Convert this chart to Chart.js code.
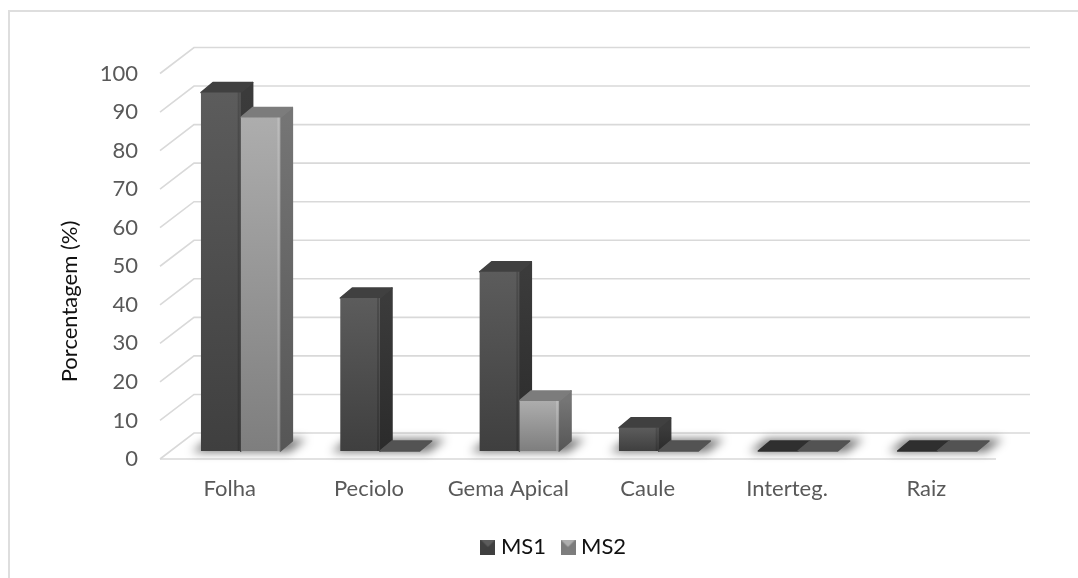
<!DOCTYPE html>
<html>
<head>
<meta charset="utf-8">
<script src="https://cdn.jsdelivr.net/npm/chart.js@4"></script>
<style>
  html, body { margin: 0; padding: 0; background: #fff; }
  canvas { display: block; }
</style>
</head>
<body>
<canvas id="graph" width="1078" height="578"></canvas>
<script>
const categories = ['Folha', 'Peciolo', 'Gema Apical', 'Caule', 'Interteg.', 'Raiz'];
const ms1 = [93, 39.7, 46.5, 6, 0, 0];
const ms2 = [86.5, 0, 13, 0, 0, 0];
const yTicks = [0, 10, 20, 30, 40, 50, 60, 70, 80, 90, 100];
const yTitle = 'Porcentagem (%)';

const FONT = 'Lato, Carlito, Calibri, sans-serif';

// 3d look: back wall is pushed by wall, bars stand a bit inside the floor
const wall = { x: 34, y: -26 };
const inset = { x: 11, y: -8 };
const depth = { x: 12, y: -10 };

const looks = [
  { top: '#5c5c5c', bottom: '#3f3f3f', side: '#3b3b3b', sideLow: '#2b2b2b', cap: '#404040', flat: '#2f2f2f', edge: 'rgba(0,0,0,0.16)' },
  { top: '#adadad', bottom: '#7e7e7e', side: '#757575', sideLow: '#565656', cap: '#7c7c7c', flat: '#535353', edge: 'rgba(255,255,255,0.18)' }
];

function faceColor(look) {
  return function(context) {
    const chart = context.chart;
    const scale = chart.scales.y;
    if (!scale || context.raw === undefined) return look.bottom;
    const y0 = scale.getPixelForValue(context.raw);
    const y1 = scale.getPixelForValue(0);
    if (!Number.isFinite(y0) || !Number.isFinite(y1)) return look.bottom;
    const g = chart.ctx.createLinearGradient(0, y0, 0, y1);
    g.addColorStop(0, look.top);
    g.addColorStop(1, look.bottom);
    return g;
  };
}

function poly(ctx, pts, fill) {
  ctx.beginPath();
  pts.forEach((p, i) => i ? ctx.lineTo(p[0], p[1]) : ctx.moveTo(p[0], p[1]));
  ctx.closePath();
  ctx.fillStyle = fill;
  ctx.strokeStyle = fill;
  ctx.lineWidth = 1.5;
  ctx.lineJoin = 'round';
  ctx.fill();
  ctx.stroke();
}

function drawSides(ctx, meta, look) {
  meta.data.forEach(bar => {
    const l = bar.x - bar.width / 2;
    const r = bar.x + bar.width / 2;
    const t = bar.y;
    const b = bar.base;
    if (b - t < 0.5) {
      poly(ctx, [[l, b], [r, b], [r + depth.x, b + depth.y], [l + depth.x, b + depth.y]], look.flat);
      return;
    }
    const g = ctx.createLinearGradient(0, t, 0, b);
    g.addColorStop(0, look.side);
    g.addColorStop(1, look.sideLow);
    poly(ctx, [[r, b], [r, t], [r + depth.x, t + depth.y], [r + depth.x, b + depth.y]], g);
    poly(ctx, [[l, t], [r, t], [r + depth.x, t + depth.y], [l + depth.x, t + depth.y]], look.cap);
  });
}

const wallsPlugin = {
  id: 'walls',
  beforeDatasetsDraw(chart) {
    const ctx = chart.ctx;
    const y = chart.scales.y;
    const a = chart.chartArea;
    ctx.save();

    // chart frame
    ctx.strokeStyle = '#dedede';
    ctx.lineWidth = 2;
    ctx.beginPath();
    ctx.moveTo(chart.width, 11);
    ctx.lineTo(9, 11);
    ctx.lineTo(9, chart.height);
    ctx.stroke();

    // grid lines on side wall and back wall
    ctx.strokeStyle = '#d9d9d9';
    ctx.lineWidth = 1.6;
    yTicks.forEach(v => {
      const py = y.getPixelForValue(v);
      ctx.beginPath();
      ctx.moveTo(a.left, py);
      ctx.lineTo(a.left + wall.x, py + wall.y);
      ctx.lineTo(a.right + wall.x, py + wall.y);
      ctx.stroke();
    });
    ctx.beginPath();
    ctx.moveTo(a.left, y.getPixelForValue(0));
    ctx.lineTo(a.right, y.getPixelForValue(0));
    ctx.stroke();

    // soft shadow under each group of bars
    const m1 = chart.getDatasetMeta(0).data;
    const m2 = chart.getDatasetMeta(1).data;
    const base = y.getPixelForValue(0) + inset.y;
    ctx.filter = 'blur(5px)';
    m1.forEach((bar, i) => {
      const l = bar.x - bar.width / 2 + inset.x - 9;
      const r = m2[i].x + m2[i].width / 2 + inset.x + 9;
      ctx.beginPath();
      ctx.moveTo(l, base + 1);
      ctx.lineTo(r, base + 1);
      ctx.lineTo(r + 17, base - 12);
      ctx.lineTo(l + 17, base - 12);
      ctx.closePath();
      ctx.fillStyle = 'rgba(0,0,0,0.55)';
      ctx.fill();
    });
    ctx.restore();

    // bars sit inside the floor, shift only what the library draws next
    ctx.save();
    ctx.translate(inset.x, inset.y);
  },
  beforeDatasetDraw(chart, args) {
    // MS2 is drawn first by the library, MS1 sides must end up behind its face
    if (args.index !== 1) return;
    drawSides(chart.ctx, chart.getDatasetMeta(0), looks[0]);
    drawSides(chart.ctx, chart.getDatasetMeta(1), looks[1]);
  },
  afterDatasetDraw(chart, args) {
    const ctx = chart.ctx;
    const look = looks[args.index];
    args.meta.data.forEach(bar => {
      if (bar.base - bar.y < 0.5) return;
      const r = bar.x + bar.width / 2;
      ctx.fillStyle = look.edge;
      ctx.fillRect(r - 3, bar.y, 2, bar.base - bar.y);
    });
  },
  afterDatasetsDraw(chart) {
    chart.ctx.restore();
  },
  afterLayout(chart) {
    // legend is a bit right of the page center
    chart.legend.left += 31;
    chart.legend.right += 31;
  },
  afterDraw(chart) {
    // axis title sits lower than the middle of the axis
    const ctx = chart.ctx;
    ctx.save();
    ctx.translate(70, 301.5);
    ctx.rotate(-Math.PI / 2);
    ctx.textAlign = 'center';
    ctx.textBaseline = 'middle';
    ctx.fillStyle = '#111';
    ctx.font = '22px ' + FONT;
    ctx.fillText(yTitle, 0, 0);
    ctx.restore();
  }
};

// small beveled legend marker
function marker(look) {
  const c = document.createElement('canvas');
  c.width = 15;
  c.height = 15;
  const x = c.getContext('2d');
  x.fillStyle = look.cap;
  x.fillRect(0, 0, 15, 15);
  x.fillStyle = look.top;
  x.beginPath(); x.moveTo(0, 0); x.lineTo(15, 0); x.lineTo(7.5, 7.5); x.closePath(); x.fill();
  x.fillStyle = look.bottom;
  x.beginPath(); x.moveTo(0, 15); x.lineTo(15, 15); x.lineTo(7.5, 7.5); x.closePath(); x.fill();
  return c;
}

new Chart(document.getElementById('graph'), {
  type: 'bar',
  data: {
    labels: categories,
    datasets: [
      { label: 'MS1', data: ms1, backgroundColor: faceColor(looks[0]), pointStyle: marker(looks[0]) },
      { label: 'MS2', data: ms2, backgroundColor: faceColor(looks[1]), pointStyle: marker(looks[1]) }
    ]
  },
  options: {
    responsive: false,
    animation: false,
    devicePixelRatio: 1,
    layout: { padding: { left: 54, right: 82, top: 73.5, bottom: 10 } },
    datasets: { bar: { categoryPercentage: 0.57, barPercentage: 1, clip: false } },
    scales: {
      x: {
        grid: { display: false, drawTicks: false },
        border: { display: false },
        ticks: { color: '#595959', font: { family: FONT, size: 22 }, padding: 17, maxRotation: 0, autoSkip: false },
        afterFit(scale) { scale.height = 57; }
      },
      y: {
        min: 0,
        max: 100,
        grid: { display: false, drawTicks: false },
        border: { display: false },
        afterBuildTicks(scale) { scale.ticks = yTicks.map(v => ({ value: v })); },
        ticks: { color: '#595959', font: { family: FONT, size: 22 }, padding: 22 },
        afterFit(scale) { scale.width = 106; }
      }
    },
    plugins: {
      title: { display: false },
      tooltip: { enabled: false },
      legend: {
        position: 'bottom',
        labels: {
          usePointStyle: true,
          color: '#111',
          font: { family: FONT, size: 22 },
          boxWidth: 4,
          boxHeight: 15,
          padding: 20
        }
      }
    }
  },
  plugins: [wallsPlugin]
});
</script>
</body>
</html>
